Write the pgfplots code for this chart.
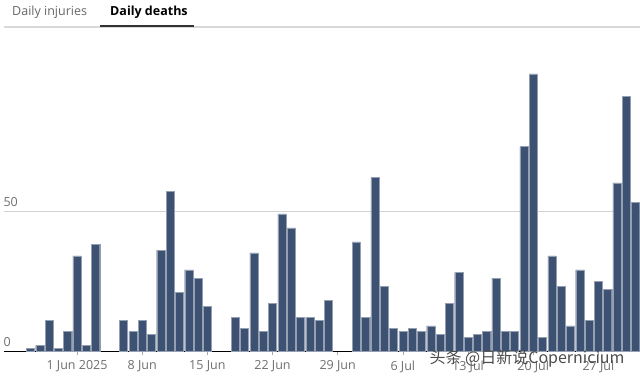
\documentclass[border=0pt]{standalone}
\usepackage{pgfplots}
\pgfplotsset{compat=1.18}
\usepackage{fontspec}
\setmainfont{Open Sans}
\newfontfamily\cjk{Noto Sans CJK SC}
\definecolor{barc}{HTML}{3D5272}
\definecolor{tickc}{HTML}{6E6E6E}
\begin{document}
\begin{tikzpicture}
\useasboundingbox (-4pt,-27pt) rectangle (636pt,351pt);
\begin{axis}[
  at={(0pt,0pt)}, anchor=south west,
  scale only axis, width=636pt, height=311pt,
  xmin=-2.84, xmax=65.47, ymin=0, ymax=111.07,
  axis x line*=bottom, axis y line*=left,
  y axis line style={draw=none},
  x axis line style={black, line width=1pt},
  xtick={5,12,19,26,33,40,47,54,61},
  xticklabels={1 Jun 2025,8 Jun,15 Jun,22 Jun,29 Jun,6 Jul,13 Jul,20 Jul,27 Jul},
  ytick={0,50},
  ymajorgrids, grid style={draw=gray!35, line width=0.8pt},
  major y tick style={draw=none},
  tick align=outside, major x tick style={tickc!60, line width=0.6pt},
  major tick length=4pt,
  xticklabel style={font=\fontsize{12.5}{14}\selectfont, text=tickc, yshift=-2pt},
  yticklabel style={font=\fontsize{12.5}{14}\selectfont, text=tickc, anchor=south west, xshift=0pt, yshift=1pt},
  /pgf/number format/assume math mode=true,
  clip=false,
]
\addplot[ybar, bar width=0.87, fill=barc, draw=barc!55!white, line width=0.3pt] coordinates {
(0,1) (1,2) (2,11) (3,1) (4,7) (5,34) (6,2) (7,38)
(10,11) (11,7) (12,11) (13,6) (14,36) (15,57) (16,21) (17,29) (18,26) (19,16)
(22,12) (23,8) (24,35) (25,7) (26,17) (27,49) (28,44) (29,12) (30,12) (31,11) (32,18)
(35,39) (36,12) (37,62) (38,23) (39,8) (40,7) (41,8) (42,7) (43,9) (44,6) (45,17) (46,28)
(47,5) (48,6) (49,7) (50,26) (51,7) (52,7) (53,73) (54,99) (55,5) (56,34) (57,23) (58,9)
(59,29) (60,11) (61,25) (62,22) (63,60) (64,91) (65,53)
};
\end{axis}
% header tabs
\draw[gray!30, line width=1.2pt] (0pt,324pt) -- (636pt,324pt);
\draw[black!80, line width=2pt] (96pt,324.5pt) -- (190pt,324.5pt);
\node[anchor=west, inner sep=0pt, text=black!60, font=\fontsize{12.5}{14}\selectfont] at (8pt,339pt) {Daily injuries};
\node[anchor=west, inner sep=0pt, text=black, font=\fontsize{12.5}{14}\selectfont\bfseries] at (106pt,339pt) {Daily deaths};
% watermark
\node[anchor=center, inner sep=0pt, text=black!70, font=\cjk\fontsize{16}{17}\selectfont] at (523pt,-8pt) {头条 @日新说Copernicium};
\end{tikzpicture}
\end{document}
